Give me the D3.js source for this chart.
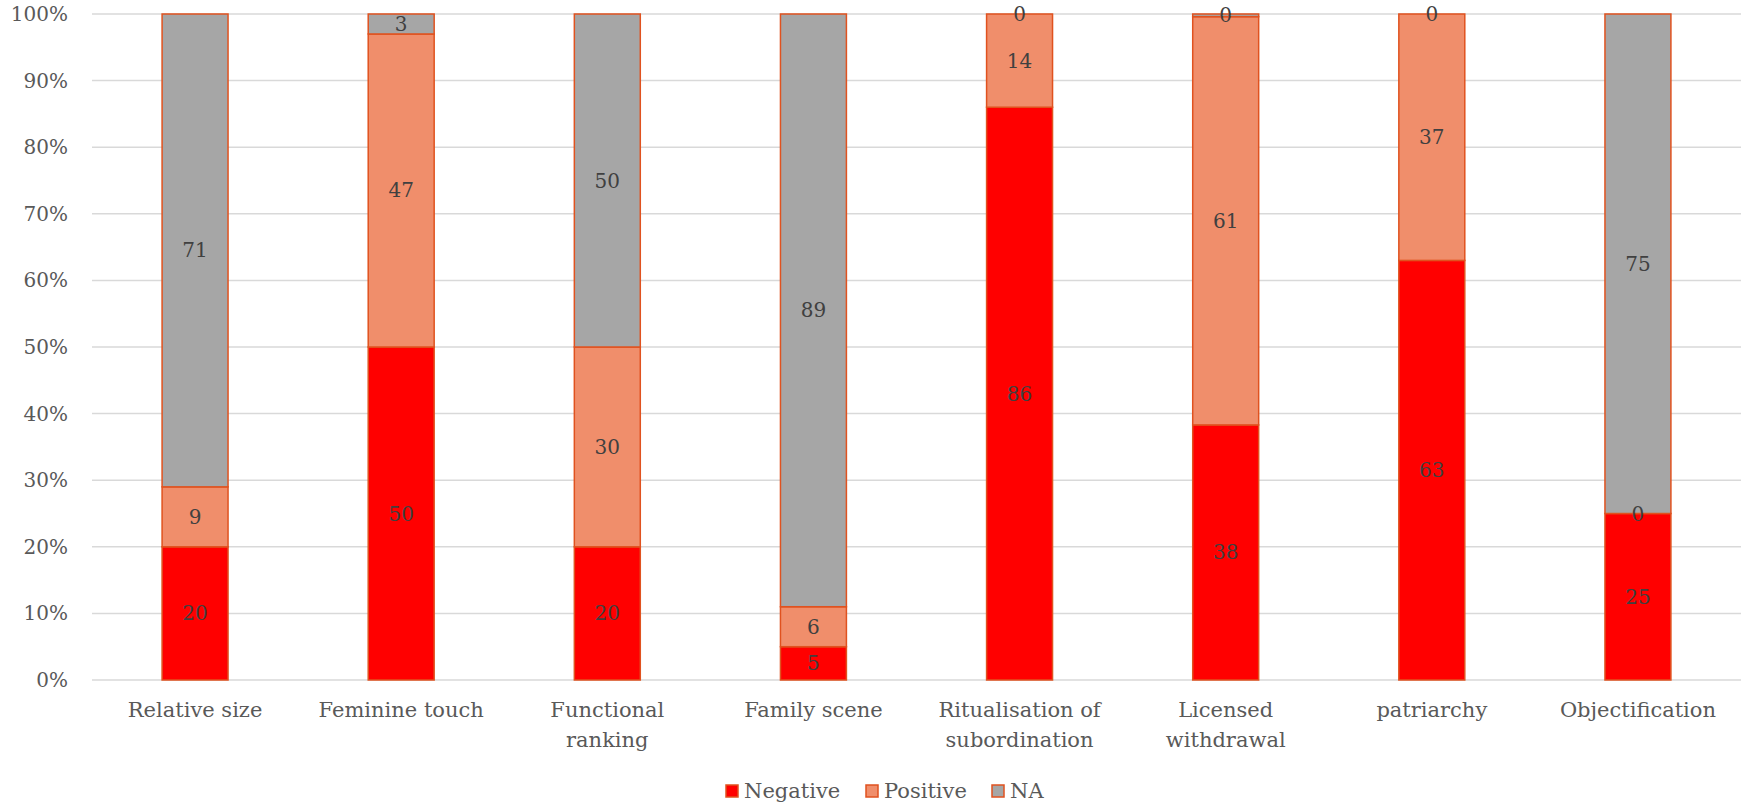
<!DOCTYPE html>
<html>
<head>
<meta charset="utf-8">
<script src="https://cdn.jsdelivr.net/npm/d3@7"></script>
<style>
  body { margin: 0; background: #fff; }
  svg text { font-family: "DejaVu Serif", serif; }
</style>
</head>
<body>
<div id="chart"></div>
<script>
// data
var categories = ['Relative size', 'Feminine touch', 'Functional ranking', 'Family scene',
  'Ritualisation of subordination', 'Licensed withdrawal', 'patriarchy', 'Objectification'];
var catLines = [['Relative size'], ['Feminine touch'], ['Functional', 'ranking'], ['Family scene'],
  ['Ritualisation of', 'subordination'], ['Licensed', 'withdrawal'], ['patriarchy'], ['Objectification']];
var negative = [20, 50, 20, 5, 86, 38.3, 63, 25];
var positive = [9, 47, 30, 6, 14, 61.3, 37, 0];
var na = [71, 3, 50, 89, 0, 0.4, 0, 75];
var seriesNames = ['Negative', 'Positive', 'NA'];
var seriesColors = ['#FF0000', '#F08E6B', '#A6A6A6'];
var yTicks = [0, 0.1, 0.2, 0.3, 0.4, 0.5, 0.6, 0.7, 0.8, 0.9, 1];

var W = 1742, H = 808;
var margin = {left: 92, right: 1, top: 14, bottom: 128};

var svg = d3.select('#chart').append('svg')
  .attr('width', W).attr('height', H);

var x = d3.scaleBand().domain(categories)
  .range([margin.left, W - margin.right]).paddingInner(0.68).paddingOuter(0.34);
var y = d3.scaleLinear().domain([0, 1]).range([H - margin.bottom, margin.top]);

// gridlines
svg.append('g').selectAll('line').data(yTicks).join('line')
  .attr('x1', margin.left).attr('x2', W - margin.right)
  .attr('y1', function(d) { return y(d); }).attr('y2', function(d) { return y(d); })
  .attr('stroke', '#D9D9D9').attr('stroke-width', 1.5);

// y axis labels
var yAxis = d3.axisLeft(y).tickValues(yTicks).tickFormat(d3.format('.0%')).tickSize(0).tickPadding(0);
var ga = svg.append('g').attr('transform', 'translate(68,0)').call(yAxis);
ga.select('.domain').remove();
ga.selectAll('text').attr('fill', '#595959').style('font-size', '20px')
  .style('font-family', '"DejaVu Serif", serif');

// stacked rows
var rows = categories.map(function(c, i) {
  var tot = negative[i] + positive[i] + na[i];
  return {cat: c, Negative: negative[i] / tot, Positive: positive[i] / tot, NA: na[i] / tot,
    raw: [negative[i], positive[i], na[i]]};
});
var stacked = d3.stack().keys(seriesNames)(rows);

var layers = svg.append('g').selectAll('g').data(stacked).join('g')
  .attr('fill', function(d, i) { return seriesColors[i]; });

layers.selectAll('rect').data(function(d) { return d; }).join('rect')
  .attr('x', function(d) { return x(d.data.cat); })
  .attr('width', x.bandwidth())
  .attr('y', function(d) { return y(d[1]); })
  .attr('height', function(d) { return y(d[0]) - y(d[1]); })
  .attr('stroke', '#E0521F').attr('stroke-width', 1.5);

// data labels
stacked.forEach(function(layer, si) {
  svg.append('g').selectAll('text').data(layer).join('text')
    .attr('x', function(d) { return x(d.data.cat) + x.bandwidth() / 2; })
    .attr('y', function(d) { return (y(d[0]) + y(d[1])) / 2; })
    .attr('dy', '0.35em')
    .attr('text-anchor', 'middle')
    .attr('fill', '#404040')
    .style('font-size', '20px')
    .text(function(d) { return Math.round(d.data.raw[si]); });
});

// category labels
var cl = svg.append('g').selectAll('text').data(categories).join('text')
  .attr('text-anchor', 'middle')
  .attr('fill', '#595959')
  .style('font-size', '21px')
  .attr('transform', function(d) { return 'translate(' + (x(d) + x.bandwidth() / 2) + ',' + (H - margin.bottom + 37) + ')'; });
cl.selectAll('tspan').data(function(d, i) { return catLines[i]; }).join('tspan')
  .attr('x', 0).attr('dy', function(d, i) { return i == 0 ? 0 : 30; })
  .text(function(d) { return d; });

// legend
var legX = [726, 866, 992];
var leg = svg.append('g').selectAll('g').data(seriesNames).join('g')
  .attr('transform', function(d, i) { return 'translate(' + legX[i] + ',785)'; });
leg.append('rect').attr('width', 12).attr('height', 12)
  .attr('fill', function(d, i) { return seriesColors[i]; })
  .attr('stroke', '#E0521F').attr('stroke-width', 1.5);
leg.append('text').attr('x', 18).attr('y', 6).attr('dy', '0.35em')
  .attr('fill', '#595959').style('font-size', '21px')
  .text(function(d) { return d; });
</script>
</body>
</html>
